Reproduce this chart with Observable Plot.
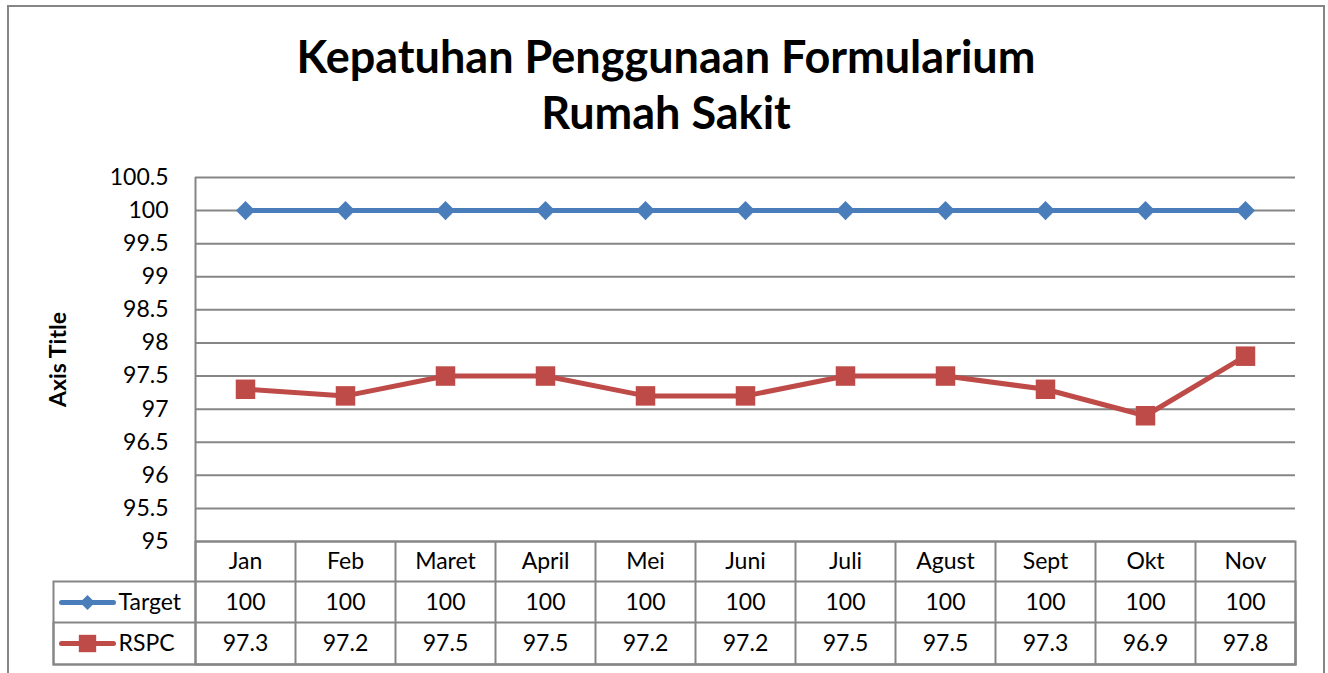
<!DOCTYPE html>
<html><head><meta charset="utf-8">
<script src="https://cdn.jsdelivr.net/npm/d3@7"></script>
<script src="https://cdn.jsdelivr.net/npm/@observablehq/plot@0.6"></script>
<style>
body{margin:0;background:#fff;font-family:Lato,sans-serif;}
#frame{position:absolute;left:7px;top:5px;width:1318px;height:700px;border:2px solid #868686;box-sizing:border-box;}
#title{position:absolute;left:0;width:1332px;top:28px;text-align:center;font-weight:bold;font-size:45px;line-height:56px;color:#000;}
#chart{position:absolute;left:0;top:150px;}
</style></head><body>
<div id="frame"></div>
<div id="title">Kepatuhan Penggunaan Formularium<br>Rumah Sakit</div>
<div id="chart"></div>
<script>
const months = ["Jan","Feb","Maret","April","Mei","Juni","Juli","Agust","Sept","Okt","Nov"];
const target = [100,100,100,100,100,100,100,100,100,100,100];
const rspc = [97.3,97.2,97.5,97.5,97.2,97.2,97.5,97.5,97.3,96.9,97.8];
const yTicks = [95,95.5,96,96.5,97,97.5,98,98.5,99,99.5,100,100.5];
const seriesNames = ["Target","RSPC"];
const colors = ["#4A7EBB","#BE4B48"];
const grid = "#868686";

const rows = months.map((m,i)=>({month:m, target:target[i], rspc:rspc[i]}));
const lineKey = {draw(ctx){ ctx.moveTo(-26,0); ctx.lineTo(26,0); }};

function legendRow(name, color, symbol, r, dy) {
  return [
    Plot.dot([name], {frameAnchor: "bottom-left", dx: -108, dy, symbol: lineKey, stroke: color, strokeWidth: 5, strokeLinecap: "round", fill: "none"}),
    Plot.dot([name], {frameAnchor: "bottom-left", dx: -108, dy, symbol, r, fill: color}),
    Plot.text([name], {frameAnchor: "bottom-left", dx: -77, dy, text: d => d, textAnchor: "start", lineAnchor: "middle"})
  ];
}

const chart = Plot.plot({
  width: 1328,
  height: 523,
  marginLeft: 195,
  marginRight: 33,
  marginTop: 27,
  marginBottom: 132,
  style: {fontFamily: "Lato, sans-serif", fontSize: "23px", color: "#000", background: "transparent"},
  x: {type: "point", domain: months, padding: 0.5, axis: null},
  y: {domain: [95, 100.5], ticks: yTicks, tickSize: 0, tickPadding: 27, label: null, tickFormat: d => String(d)},
  marks: [
    Plot.ruleY(yTicks, {stroke: grid, strokeWidth: 2}),
    Plot.ruleX([months[0]], {x: d => d, dx: -50, insetBottom: -123, stroke: grid, strokeWidth: 2}),
    Plot.ruleX(months.slice(1), {x: d => d, dx: -50, insetTop: 364, insetBottom: -123, stroke: grid, strokeWidth: 2}),
    Plot.frame({insetTop: 364, insetBottom: -123, stroke: grid, strokeWidth: 2}),
    Plot.frame({insetTop: 404, insetBottom: -123, insetLeft: -142, stroke: grid, strokeWidth: 2}),
    Plot.frame({insetTop: 445, insetBottom: -123, insetLeft: -142, stroke: grid, strokeWidth: 2}),
    Plot.text(["Axis Title"], {frameAnchor: "left", dx: -137, rotate: -90, textAnchor: "middle", lineAnchor: "middle", fontWeight: "bold", fontSize: 23, text: d => d}),
    Plot.line(rows, {x: "month", y: "target", stroke: colors[0], strokeWidth: 5}),
    Plot.dot(rows, {x: "month", y: "target", symbol: "diamond2", r: 8.6, fill: colors[0]}),
    Plot.line(rows, {x: "month", y: "rspc", stroke: colors[1], strokeWidth: 5}),
    Plot.dot(rows, {x: "month", y: "rspc", symbol: "square", r: 11, fill: colors[1]}),
    Plot.text(rows, {x: "month", text: "month", frameAnchor: "bottom", lineAnchor: "middle", dy: 20}),
    Plot.text(rows, {x: "month", text: d => String(d.target), frameAnchor: "bottom", lineAnchor: "middle", dy: 61}),
    Plot.text(rows, {x: "month", text: d => String(d.rspc), frameAnchor: "bottom", lineAnchor: "middle", dy: 102}),
    ...legendRow(seriesNames[0], colors[0], "diamond2", 6.8, 61),
    ...legendRow(seriesNames[1], colors[1], "square", 9.8, 102)
  ]
});
document.getElementById("chart").appendChild(chart);
</script>
</body></html>
